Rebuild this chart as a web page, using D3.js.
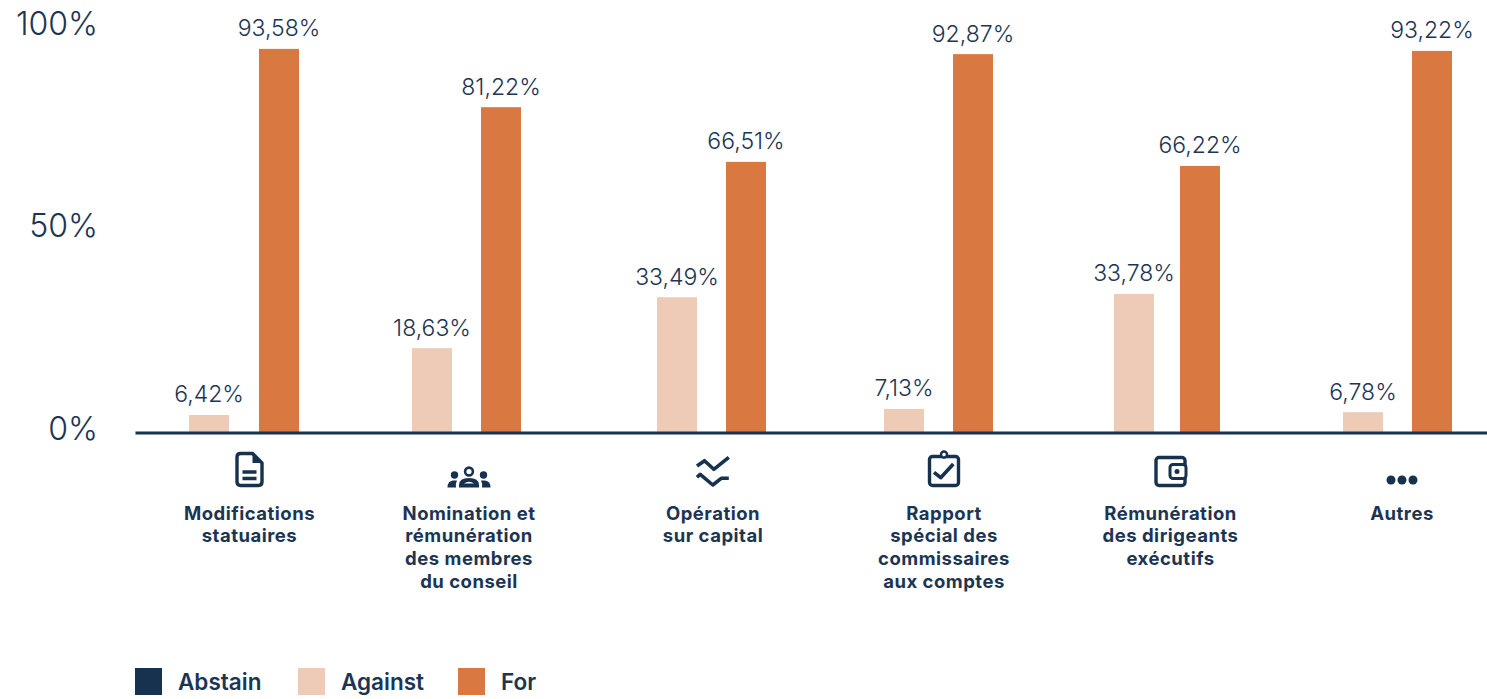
<!DOCTYPE html>
<html>
<head>
<meta charset="utf-8">
<script src="https://cdn.jsdelivr.net/npm/d3@7"></script>
<style>
    html, body { margin: 0; padding: 0; background: #fff; }
    svg { display: block; }
    text { font-family: Inter, "Noto Sans", sans-serif; fill: #1c3553; }
</style>
</head>
<body>
<div id="chart"></div>
<script>
var categories = ["modif", "nomin", "capital", "rapport", "remun", "autres"];
var categoryLines = [
    ["Modifications", "statuaires"],
    ["Nomination et", "rémunération", "des membres", "du conseil"],
    ["Opération", "sur capital"],
    ["Rapport", "spécial des", "commissaires", "aux comptes"],
    ["Rémunération", "des dirigeants", "exécutifs"],
    ["Autres"]
];
// bar heights as drawn in the picture, they differ a bit from the printed labels
var againstValues = [4.2, 20.7, 33.3, 5.7, 34.1, 4.9];
var forValues = [94.6, 80.2, 66.7, 93.3, 65.7, 94.1];
var againstLabels = ["6,42%", "18,63%", "33,49%", "7,13%", "33,78%", "6,78%"];
var forLabels = ["93,58%", "81,22%", "66,51%", "92,87%", "66,22%", "93,22%"];
var yTicks = [0, 50, 100];
var legendNames = ["Abstain", "Against", "For"];

var navy = "#16324f", peach = "#eecbb6", orange = "#d97941";
var width = 1487, height = 699, barWidth = 40;

var svg = d3.select("#chart").append("svg")
    .attr("width", width)
    .attr("height", height);

var y = d3.scaleLinear().domain([0, 100]).range([432, 27]);

// the groups are not evenly spaced in the original, so ordinal scales
var xAgainst = d3.scaleOrdinal().domain(categories).range([189, 412, 657, 884, 1114, 1343]);
var xFor = d3.scaleOrdinal().domain(categories).range([259, 481, 726, 953, 1180, 1412]);
var xLabel = d3.scaleOrdinal().domain(categories).range([249.5, 469, 713, 944, 1170.5, 1402]);

function drawBars(values, labels, x, color) {
    var g = svg.append("g");
    g.selectAll("rect")
        .data(values)
        .enter().append("rect")
        .attr("x", function (d, i) { return x(categories[i]); })
        .attr("y", function (d) { return y(d); })
        .attr("width", barWidth)
        .attr("height", function (d) { return y(0) - y(d); })
        .attr("fill", color);
    g.selectAll("text")
        .data(values)
        .enter().append("text")
        .attr("x", function (d, i) { return x(categories[i]) + barWidth / 2; })
        .attr("y", function (d) { return y(d) - 12.5; })
        .attr("text-anchor", "middle")
        .attr("font-size", 23)
        .attr("font-weight", 300)
        .text(function (d, i) { return labels[i]; });
}

drawBars(againstValues, againstLabels, xAgainst, peach);
drawBars(forValues, forLabels, xFor, orange);

// y axis, labels only
var yAxis = svg.append("g")
    .attr("transform", "translate(135,0)")
    .call(d3.axisLeft(y).tickValues(yTicks).tickSize(0).tickPadding(37).tickFormat(function (d) { return d + "%"; }));
yAxis.select(".domain").remove();
yAxis.selectAll("text")
    .attr("dy", "0.22em")
    .style("font-family", 'Inter, "Noto Sans", sans-serif')
    .style("font-size", "32px")
    .style("font-weight", 300);

// baseline
var xBase = d3.scaleLinear().range([135, width]);
var baseline = svg.append("g")
    .attr("transform", "translate(0,432.5)")
    .call(d3.axisBottom(xBase).tickValues([]).tickSizeOuter(0));
baseline.select(".domain").attr("stroke", navy).attr("stroke-width", 3);

// category labels
var labelG = svg.append("g").selectAll("text")
    .data(categoryLines)
    .enter().append("text")
    .attr("text-anchor", "middle")
    .attr("font-size", 18.5)
    .attr("font-weight", 700)
    .attr("letter-spacing", 0.5)
    .attr("y", 519);
labelG.selectAll("tspan")
    .data(function (d, i) { return d.map(function (s) { return {s: s, c: categories[i]}; }); })
    .enter().append("tspan")
    .attr("x", function (d) { return xLabel(d.c); })
    .attr("y", function (d, i) { return 519.5 + i * 22.7; })
    .text(function (d) { return d.s; });

// icons, local coords around the label centre at y = 470
function lineIcon(g, d, w) {
    g.append("path").attr("d", d).attr("fill", "none").attr("stroke", navy)
        .attr("stroke-width", w).attr("stroke-linejoin", "round");
}
var icons = {
    modif: function (g) {
        lineIcon(g, "M-9,-16.5H3L12.5,-7V12Q12.5,15.5 9,15.5H-9Q-12.5,15.5 -12.5,12V-13Q-12.5,-16.5 -9,-16.5Z", 3.4);
        g.append("path").attr("d", "M3,-16.5L12.5,-7H3Z").attr("fill", navy);
        lineIcon(g, "M-7,2H7M-7,8.5H7", 3.4);
    },
    nomin: function (g) {
        g.append("circle").attr("cx", 0).attr("cy", 1.5).attr("r", 3.9)
            .attr("fill", "none").attr("stroke", navy).attr("stroke-width", 2.6);
        g.append("circle").attr("cx", -14.5).attr("cy", 5).attr("r", 3.7).attr("fill", navy);
        g.append("circle").attr("cx", 14.5).attr("cy", 5).attr("r", 3.7).attr("fill", navy);
        g.append("path").attr("fill", navy).attr("d", "M-10,17.5V15Q-10,8 0,8Q10,8 10,15V17.5Z");
        g.append("path").attr("fill", "#fff").attr("d", "M-5,13.5Q0,10 5,13.5Z");
        g.append("path").attr("fill", navy).attr("d", "M-21.5,17.5Q-21.5,11 -16,10.5H-12Q-13.5,13 -13,17.5Z");
        g.append("path").attr("fill", navy).attr("d", "M21.5,17.5Q21.5,11 16,10.5H12Q13.5,13 13,17.5Z");
    },
    capital: function (g) {
        lineIcon(g, "M-16,-4L-8.5,-9.3L0.8,-0.7L15.8,-12.7", 3.6);
        lineIcon(g, "M-16,7.3L-12.8,4.3L-0.2,15L8.2,8.3H15.8", 3.6);
    },
    rapport: function (g) {
        g.append("rect").attr("x", -14.5).attr("y", -13.5).attr("width", 29).attr("height", 29).attr("rx", 3)
            .attr("fill", "none").attr("stroke", navy).attr("stroke-width", 3.4);
        g.append("circle").attr("cx", 0).attr("cy", -15.5).attr("r", 3)
            .attr("fill", "#fff").attr("stroke", navy).attr("stroke-width", 2.4);
        lineIcon(g, "M-10,2.3L-3.3,7.7L9.3,-6", 3.6);
    },
    remun: function (g) {
        g.append("rect").attr("x", -14.5).attr("y", -12.5).attr("width", 29).attr("height", 28).attr("rx", 3)
            .attr("fill", "none").attr("stroke", navy).attr("stroke-width", 3.4);
        g.append("rect").attr("x", -0.5).attr("y", -5.5).attr("width", 16).attr("height", 14).attr("rx", 3)
            .attr("fill", "#fff").attr("stroke", navy).attr("stroke-width", 3);
        g.append("circle").attr("cx", 6.5).attr("cy", 1.5).attr("r", 2.5).attr("fill", navy);
    },
    autres: function (g) {
        [-11, 0, 11].forEach(function (dx) {
            g.append("circle").attr("cx", dx).attr("cy", 10).attr("r", 4.5).attr("fill", navy);
        });
    }
};
categories.forEach(function (c) {
    var g = svg.append("g").attr("transform", "translate(" + xLabel(c) + ",470)");
    icons[c](g);
});

// legend
var legendX = d3.scaleOrdinal().domain(legendNames).range([135, 298, 458]);
var legendColor = d3.scaleOrdinal().domain(legendNames).range([navy, peach, orange]);
var legend = svg.append("g").selectAll("g")
    .data(legendNames)
    .enter().append("g")
    .attr("transform", function (d) { return "translate(" + legendX(d) + ",668)"; });
legend.append("rect")
    .attr("width", 27)
    .attr("height", 27)
    .attr("fill", function (d) { return legendColor(d); });
legend.append("text")
    .attr("x", 43)
    .attr("y", 22)
    .attr("font-size", 22.5)
    .attr("font-weight", 600)
    .text(function (d) { return d; });
</script>
</body>
</html>
